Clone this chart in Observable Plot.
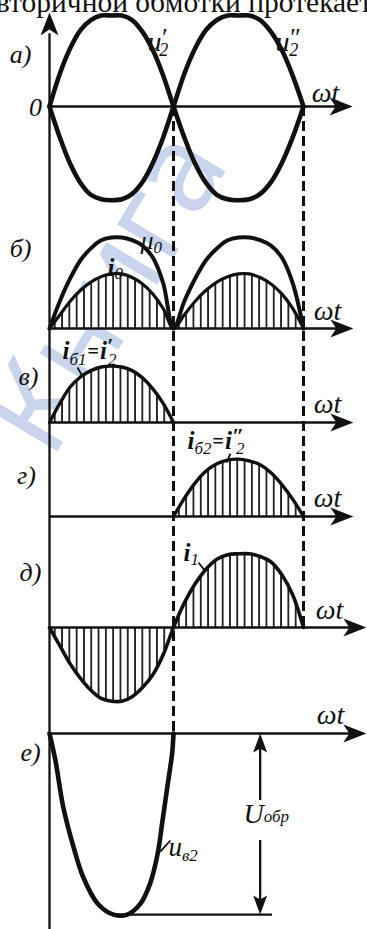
<!DOCTYPE html>
<html><head><meta charset="utf-8">
<script src="https://cdn.jsdelivr.net/npm/d3@7"></script>
<script src="https://cdn.jsdelivr.net/npm/@observablehq/plot@0.6"></script>
<style>html,body{margin:0;padding:0;background:#fff;}#chart{width:367px;height:929px;overflow:hidden;}</style>
</head><body><div id="chart"></div>
<script>
// ---------- data (1 unit = amplitude of u2) ----------
const halfAngles = [0,15,30,45,60,75,90,105,120,135,150,165,180];   // ωt, degrees
const u2Upper = [0,0.36,0.64,0.84,0.95,1.00,1.00,1.00,0.95,0.82,0.62,0.34,0];
const u2Lower = [0,-0.34,-0.63,-0.84,-0.97,-1.02,-1.03,-1.02,-0.96,-0.83,-0.62,-0.34,0];
const u0Hump  = [0,0.30,0.55,0.75,0.88,0.97,1.00,1.00,0.97,0.91,0.78,0.50,0];
const i0Hump  = [0,0.15,0.30,0.42,0.51,0.57,0.60,0.60,0.56,0.49,0.38,0.22,0];
const ib1Hump = [0,0.21,0.39,0.50,0.57,0.61,0.62,0.61,0.57,0.49,0.37,0.21,0];
const ib2Hump = [0,0.20,0.37,0.50,0.58,0.62,0.63,0.61,0.57,0.48,0.35,0.19,0];
const i1Neg   = [0,-0.20,-0.40,-0.56,-0.69,-0.78,-0.81,-0.81,-0.76,-0.66,-0.52,-0.30,0];
const i1Pos   = [0,0.27,0.48,0.64,0.75,0.80,0.81,0.81,0.78,0.72,0.58,0.36,0];
const ub2Angles = [0,8.7,20,35,49,70,93,113,132,146,157,164,171,178,180];
const ub2Values = [0,-0.30,-0.81,-1.25,-1.58,-1.87,-1.99,-1.99,-1.87,-1.65,-1.32,-0.96,-0.59,-0.22,0];
const uObr = -1.99;             // reverse voltage level
const uObrAngle = 300;          // position of the U_обр dimension arrow
const uObrLine = [98.7, 317];   // extent of the bottom reference line
const axisEnds = {a:428, b:429, v:429, g:429, d:447, e:447};
const headerText = "вторичной обмотки протекает";
const panelLetters = {a:"а)", b:"б)", v:"в)", g:"г)", d:"д)", e:"е)"};
const watermarkText = "Книга";

// ---------- layout ----------
const W = 367, H = 929, PX = 91;
const panelBase = {a:106, b:328, v:422, g:516, d:627, e:733};
const lvl = p => -panelBase[p] / PX;
const Y = (p, v) => lvl(p) + v;

const seg = (angs, vals, off = 0) => angs.map((a, i) => ({x: a + off, v: vals[i]}));
const join = (...parts) => parts.flatMap((s, k) => k ? s.slice(1) : s);
const onPanel = (p, pts) => pts.map(d => ({x: d.x, y: Y(p, d.v), y0: lvl(p)}));

const u2p  = onPanel("a", join(seg(halfAngles, u2Upper), seg(halfAngles, u2Lower, 180)));
const u2pp = onPanel("a", join(seg(halfAngles, u2Lower), seg(halfAngles, u2Upper, 180)));
const u0   = onPanel("b", join(seg(halfAngles, u0Hump), seg(halfAngles, u0Hump, 180)));
const i0   = onPanel("b", join(seg(halfAngles, i0Hump), seg(halfAngles, i0Hump, 180)));
const ib1  = onPanel("v", seg(halfAngles, ib1Hump));
const ib2  = onPanel("g", seg(halfAngles, ib2Hump, 180));
const i1   = onPanel("d", join(seg(halfAngles, i1Neg), seg(halfAngles, i1Pos, 180)));
const ub2  = onPanel("e", seg(ub2Angles, ub2Values));

// simple labels: x in degrees, v relative to panel axis, baseline anchored, centred
const labels = [
  ...[["a",-42,0.473],["b",-42,0.791],["v",-30.5,0.407],["g",-33.4,0.352],["d",-27.6,0.516],["e",-27.6,-0.297]]
     .map(([p,x,v]) => ({p, x, v, t: panelLetters[p], s: 26})),
  {p:"a", x:-20.3, v:-0.099, t:"0", s:26},
  ...[["a",390.5,0.044],["b",393.2,0.088],["v",393.2,0.099],["g",393.2,0.099],["d",396,0.088],["e",397.4,0.099]]
     .map(([p,x,v]) => ({p, x, v, t:"ωt", s:28}))
].map(d => ({...d, y: Y(d.p, d.v)}));

// composite labels (with primes and subscripts): start anchored
const richLabels = [
  {p:"a", x:142.4, v:0.615, t:"u′2"},
  {p:"a", x:321.2, v:0.615, t:"u″2"},
  {p:"b", x:132.1, v:0.879, t:"μ0"},
  {p:"b", x:84.2,  v:0.582, t:"i0"},
  {p:"v", x:18.9,  v:0.703, t:"iб1=i′2"},
  {p:"g", x:199.4, v:0.747, t:"iб2=i″2"},
  {p:"d", x:193.8, v:0.736, t:"i1"},
  {p:"e", x:276.9, v:-0.989, t:"Uобр"},
  {p:"e", x:172.7, v:-1.341, t:"uв2"}
].map(d => ({...d, y: Y(d.p, d.v)}));
// parts: [text, size, style(it|bi|b), dx, baseline offset]
const richParts = {
  "u′2": [["u",28,"it",0,0],["′",26,"it",-1,-5],["2",18,"it",-7,5]],
  "u″2": [["u",28,"it",0,0],["″",26,"it",-1,-5],["2",18,"it",-10,5]],
  "μ0":  [["μ",26,"it",0,0],["0",17,"it",0,4]],
  "i0":  [["i",25,"bi",0,0],["0",17,"it",0,3]],
  "iб1=i′2": [["i",25,"bi",0,0],["б1",17,"it",0,6],["=",20,"b",1,-1],["i",25,"bi",1,0],["′",22,"bi",0,-6],["2",17,"it",-5,6]],
  "iб2=i″2": [["i",25,"bi",0,0],["б2",17,"it",0,5],["=",20,"b",1,-1],["i",25,"bi",1,0],["″",22,"bi",0,-6],["2",17,"it",-8,5]],
  "i1":  [["i",25,"bi",0,0],["1",17,"it",0,4]],
  "Uобр": [["U",28,"it",0,0],["обр",17,"it",0,-1]],
  "uв2": [["u",27,"it",0,0],["в2",17,"it",0,5]]
};

// leader strokes from labels to curves
const leaders = [
  {p:"v", x1:40.6, v1:0.604, x2:47.9, v2:0.505},
  {p:"g", x1:258.9, v1:0.692, x2:253.4, v2:0.593},
  {p:"d", x1:214.6, v1:0.714, x2:224.3, v2:0.615},
  {p:"e", x1:175.4, v1:-1.176, x2:160.9, v2:-1.297}
].map(d => ({x1:d.x1, x2:d.x2, y1:Y(d.p,d.v1), y2:Y(d.p,d.v2)}));

// arrow heads
const arrowHead = (len, hw, notch) => ({
  draw(ctx) { ctx.moveTo(0,0); ctx.lineTo(-len,-hw); ctx.lineTo(-len+notch,0); ctx.lineTo(-len,hw); ctx.closePath(); }
});
const bigArrow = arrowHead(23, 9, 6);
const smallArrow = arrowHead(19, 7, 4);

const axisRows = Object.keys(axisEnds).map(p => ({p, y: lvl(p), x2: axisEnds[p] - 14, tip: axisEnds[p]}));

const serif = "Liberation Serif, Times New Roman, serif";
const line = (data, w) => Plot.line(data, {x: "x", y: "y", stroke: "#111", strokeWidth: w, curve: "catmull-rom", strokeLinejoin: "round", strokeLinecap: "round"});
const hatch = data => Plot.areaY(data, {x: "x", y1: "y0", y2: "y", fill: "url(#hatch)", curve: "catmull-rom"});

const chart = Plot.plot({
  width: W, height: H,
  margin: 0, marginTop: 0, marginRight: 0, marginBottom: 0, marginLeft: 0,
  style: {background: "white", fontFamily: serif, overflow: "visible"},
  x: {type: "linear", domain: [0, 180, 360], range: [49, 173, 303], axis: null},
  y: {type: "linear", domain: [-H / PX, 0], range: [H, 0], axis: null},
  marks: [
    // watermark
    Plot.text([watermarkText], {x: 84, y: Y("b", 0.40), text: d => d, rotate: -59, fontSize: 122,
      fontFamily: "Noto Sans", fill: "#c9d5ed", textAnchor: "middle", lineAnchor: "middle"}),
    // header line of the page, clipped at the top
    Plot.text([headerText], {x: 194.5, y: Y("a", 1.033), text: d => d, fontSize: 29.5, fontFamily: serif,
      textAnchor: "middle", lineAnchor: "bottom", fill: "#111"}),
    // hatched areas
    hatch(i0), hatch(ib1), hatch(ib2), hatch(i1),
    // axes
    Plot.ruleX([0], {x: d => d, y1: Y("a", 0.80), y2: -H / PX, stroke: "#111", strokeWidth: 2.3}),
    Plot.ruleY(axisRows, {y: "y", x1: 0, x2: "x2", stroke: "#111", strokeWidth: 2.3}),
    Plot.dot(axisRows, {x: "tip", y: "y", symbol: bigArrow, fill: "#111", stroke: "none"}),
    Plot.dot([0], {x: d => d, y: Y("a", 1.033), symbol: bigArrow, rotate: -90, fill: "#111", stroke: "none"}),
    // dashed guides
    Plot.ruleX([{x: 180, y1: lvl("a"), y2: lvl("e")}, {x: 360, y1: lvl("a"), y2: lvl("d")}],
      {x: "x", y1: "y1", y2: "y2", stroke: "#111", strokeWidth: 3, strokeDasharray: "10,5"}),
    // curves
    line(u2p, 4.6), line(u2pp, 4.6),
    line(u0, 4), line(i0, 3.2),
    line(ib1, 3.4), line(ib2, 3.4),
    line(i1, 3.6),
    line(ub2, 4.6),
    // U_обр dimension
    Plot.ruleY([uObr], {y: d => Y("e", d), x1: uObrLine[0], x2: uObrLine[1], stroke: "#111", strokeWidth: 2.3}),
    Plot.ruleX([{y1: Y("e", -0.15), y2: Y("e", -0.736)}, {y1: Y("e", -1.176), y2: Y("e", uObr + 0.15)}],
      {x: uObrAngle, y1: "y1", y2: "y2", stroke: "#111", strokeWidth: 2.3}),
    Plot.dot([{y: Y("e", 0), r: -90}, {y: Y("e", uObr), r: 90}],
      {x: uObrAngle, y: "y", rotate: "r", symbol: smallArrow, fill: "#111", stroke: "none"}),
    // leaders
    Plot.link(leaders, {x1: "x1", y1: "y1", x2: "x2", y2: "y2", stroke: "#111", strokeWidth: 1.8}),
    // labels
    Plot.text(labels, {x: "x", y: "y", text: "t", fontSize: "s", textAnchor: "middle", lineAnchor: "bottom",
      fontFamily: serif, fontStyle: "italic", fill: "#111"}),
    Plot.text(richLabels, {x: "x", y: "y", text: "t", fontSize: 26, textAnchor: "start", lineAnchor: "bottom",
      fontFamily: serif, fontStyle: "italic", fill: "#111"})
  ]
});

// hatch pattern for the current areas
const defs = d3.select(chart).insert("defs", ":first-child");
const pat = defs.append("pattern").attr("id", "hatch").attr("patternUnits", "userSpaceOnUse")
  .attr("width", 7.3).attr("height", 20);
pat.append("rect").attr("width", 7.3).attr("height", 20).attr("fill", "white");
pat.append("line").attr("x1", 3.65).attr("x2", 3.65).attr("y1", 0).attr("y2", 20)
  .attr("stroke", "#111").attr("stroke-width", 1.7);

// typeset composite labels with tspans (primes, subscripts)
d3.select(chart).selectAll("text").each(function () {
  const spec = richParts[this.textContent];
  if (!spec) return;
  const el = d3.select(this);
  el.text(null);
  let prev = 0;
  spec.forEach(([t, size, k, dx, off]) => {
    el.append("tspan").text(t)
      .attr("font-size", size)
      .attr("font-weight", k === "it" ? "normal" : "bold")
      .attr("font-style", k === "b" ? "normal" : "italic")
      .attr("dx", dx || null)
      .attr("dy", (off - prev) || null);
    prev = off;
  });
});

document.getElementById("chart").appendChild(chart);
</script>
</body></html>
